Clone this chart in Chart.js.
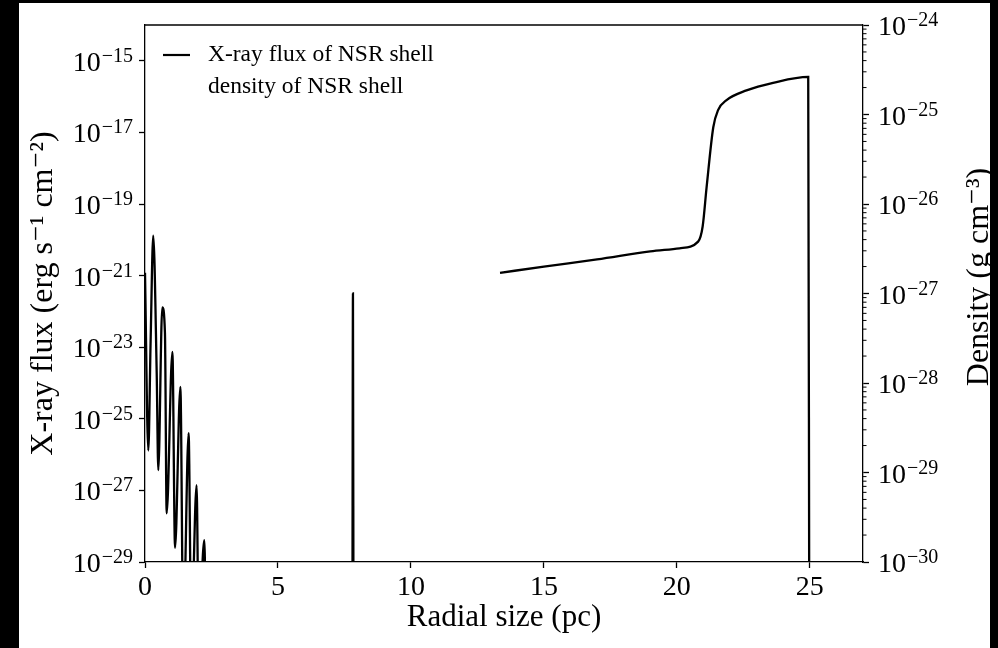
<!DOCTYPE html>
<html>
<head>
<meta charset="utf-8">
<script src="https://cdn.jsdelivr.net/npm/chart.js@4.4.0/dist/chart.umd.min.js"></script>
<style>
  html, body { margin: 0; padding: 0; background: #000; width: 998px; height: 648px; overflow: hidden; }
  #wrap { position: absolute; left: 19px; top: 3px; width: 971px; height: 645px; background: #fff; }
</style>
</head>
<body>
<div id="wrap"><canvas id="chart" width="971" height="645"></canvas></div>
<script>
// X-ray flux (left axis)
const fluxRadius = [0, 0.124, 0.21, 0.31, 0.44, 0.50, 0.65, 0.75, 0.815, 1.03, 1.13, 1.33, 1.44, 1.64, 1.74, 1.94, 2.02, 2.23, 2.29];
const fluxValues = [1.2e-21, 1.3e-26, 1.3e-23, 1.3e-20, 1.9e-24, 3.7e-27, 1.3e-22, 2.5e-23, 2.3e-28, 7.4e-24, 2.5e-29, 7.8e-25, 1e-31, 4e-26, 1e-31, 1.4e-27, 1e-31, 4.1e-29, 1e-31];

// density (right axis); null = nothing drawn
const densityRadius = [7.80, 7.82, 7.84, 10, 13.35, 15, 17, 19, 20.1, 20.8, 20.97, 21.12, 21.37, 21.55, 21.87, 22.62, 23.62, 24.94, 24.98];
const densityValues = [1e-31, 1e-27, 1e-31, null, 1.7e-27, 2.0e-27, 2.4e-27, 2.95e-27, 3.2e-27, 3.8e-27, 5.6e-27, 1.55e-26, 7.2e-26, 1.12e-25, 1.45e-25, 1.86e-25, 2.26e-25, 2.63e-25, 1e-31];

const xTicks = [0, 5, 10, 15, 20, 25];
const fluxTicks = [1e-29, 1e-27, 1e-25, 1e-23, 1e-21, 1e-19, 1e-17, 1e-15];
const densityTicks = [1e-30, 1e-29, 1e-28, 1e-27, 1e-26, 1e-25, 1e-24];
const legendLabels = ['X-ray flux of NSR shell', 'density of NSR shell'];

const FONT = "'Liberation Serif', 'DejaVu Serif', serif";
const SUP = { '-': '\u207B', '1': '\u00B9', '2': '\u00B2', '3': '\u00B3' };
const sup = (s) => String(s).split('').map(c => SUP[c] || c).join('');
const exponentOf = (v) => String(Math.round(Math.log10(v))).replace('-', '\u2212');

const toPoints = (xs, ys) => xs.map((x, i) => ({ x: x, y: ys[i] }));

const axisGrid = {
    drawOnChartArea: false,
    color: '#000',
    tickColor: '#000',
    tickLength: 6,
    tickWidth: 1.3,
};

// "10" with a raised exponent, like the mathtext labels
function drawPower(ctx, v, x, py, alignRight) {
    const exp = exponentOf(v);
    ctx.font = '28px ' + FONT;
    const wBase = ctx.measureText('10').width;
    ctx.font = '20px ' + FONT;
    const wExp = ctx.measureText(exp).width;
    const x0 = alignRight ? x - wBase - wExp - 1 : x;
    ctx.font = '28px ' + FONT;
    ctx.fillText('10', x0, py + 10);
    ctx.font = '20px ' + FONT;
    ctx.fillText(exp, x0 + wBase + 1, py + 1);
}

const extras = {
    id: 'extras',
    afterDraw(chart) {
        const ctx = chart.ctx;
        const area = chart.chartArea;
        const left = chart.scales.y;
        const right = chart.scales.y1;
        ctx.save();
        ctx.strokeStyle = '#000';
        ctx.lineWidth = 1.3;
        // top spine
        ctx.beginPath();
        ctx.moveTo(area.left, area.top);
        ctx.lineTo(area.right, area.top);
        ctx.stroke();
        // minor ticks on the density axis
        ctx.lineWidth = 1;
        for (let i = 0; i < densityTicks.length - 1; i++) {
            for (let k = 2; k <= 9; k++) {
                const py = right.getPixelForValue(densityTicks[i] * k);
                ctx.beginPath();
                ctx.moveTo(area.right, py);
                ctx.lineTo(area.right + 3.5, py);
                ctx.stroke();
            }
        }
        // tick labels of both log axes
        ctx.fillStyle = '#000';
        ctx.textAlign = 'left';
        ctx.textBaseline = 'alphabetic';
        fluxTicks.forEach(v => drawPower(ctx, v, area.left - 12, left.getPixelForValue(v), true));
        densityTicks.forEach(v => drawPower(ctx, v, area.right + 15, right.getPixelForValue(v), false));

        // right axis title, reading upwards
        ctx.font = '32px ' + FONT;
        ctx.textAlign = 'center';
        ctx.translate(969, 274);
        ctx.rotate(-Math.PI / 2);
        ctx.fillText('Density (g cm' + sup(-3) + ')', 0, 0);
        ctx.restore();

        // legend inside the plot
        ctx.save();
        ctx.strokeStyle = '#000';
        ctx.lineWidth = 2.2;
        ctx.beginPath();
        ctx.moveTo(area.left + 18, area.top + 30);
        ctx.lineTo(area.left + 45, area.top + 30);
        ctx.stroke();
        ctx.fillStyle = '#000';
        ctx.font = '23.5px ' + FONT;
        ctx.textAlign = 'left';
        ctx.textBaseline = 'middle';
        ctx.fillText(legendLabels[0], area.left + 63, area.top + 30);
        ctx.fillText(legendLabels[1], area.left + 63, area.top + 62);
        ctx.restore();
    }
};

new Chart(document.getElementById('chart'), {
    type: 'line',
    data: {
        datasets: [
            {
                label: legendLabels[0],
                data: toPoints(fluxRadius, fluxValues),
                yAxisID: 'y',
                borderColor: '#000',
                borderWidth: 2.3,
                pointRadius: 0,
                cubicInterpolationMode: 'monotone',
            },
            {
                label: legendLabels[1],
                data: toPoints(densityRadius, densityValues),
                yAxisID: 'y1',
                borderColor: '#000',
                borderWidth: 2.3,
                pointRadius: 0,
                spanGaps: false,
                cubicInterpolationMode: 'monotone',
            },
        ],
    },
    options: {
        responsive: false,
        animation: false,
        layout: { padding: { top: 22, left: 0, right: 0, bottom: 0 } },
        plugins: {
            legend: { display: false },
            tooltip: { enabled: false },
        },
        scales: {
            x: {
                type: 'linear',
                min: 0,
                max: 27,
                afterBuildTicks: (s) => { s.ticks = xTicks.map(v => ({ value: v })); },
                afterFit: (s) => { s.height = 86; },
                grid: axisGrid,
                border: { color: '#000', width: 1.3 },
                ticks: { color: '#000', font: { family: FONT, size: 28 }, padding: 3, maxRotation: 0 },
                title: { display: true, text: 'Radial size (pc)', color: '#000', font: { family: FONT, size: 31 }, padding: { top: 0, bottom: 12 } },
            },
            y: {
                type: 'logarithmic',
                position: 'left',
                min: 1e-29,
                max: 1e-14,
                afterBuildTicks: (s) => { s.ticks = fluxTicks.map(v => ({ value: v })); },
                afterFit: (s) => { s.width = 126; },
                grid: axisGrid,
                border: { color: '#000', width: 1.3 },
                ticks: { display: false },
                title: { display: true, text: 'X-ray flux (erg s' + sup(-1) + ' cm' + sup(-2) + ')', color: '#000', font: { family: FONT, size: 32 }, padding: { top: 5, bottom: 0 } },
            },
            y1: {
                type: 'logarithmic',
                position: 'right',
                min: 1e-30,
                max: 1e-24,
                afterBuildTicks: (s) => { s.ticks = densityTicks.map(v => ({ value: v })); },
                afterFit: (s) => { s.width = 127; },
                grid: axisGrid,
                border: { color: '#000', width: 1.3 },
                ticks: { display: false },
            },
        },
    },
    plugins: [extras],
});
</script>
</body>
</html>
